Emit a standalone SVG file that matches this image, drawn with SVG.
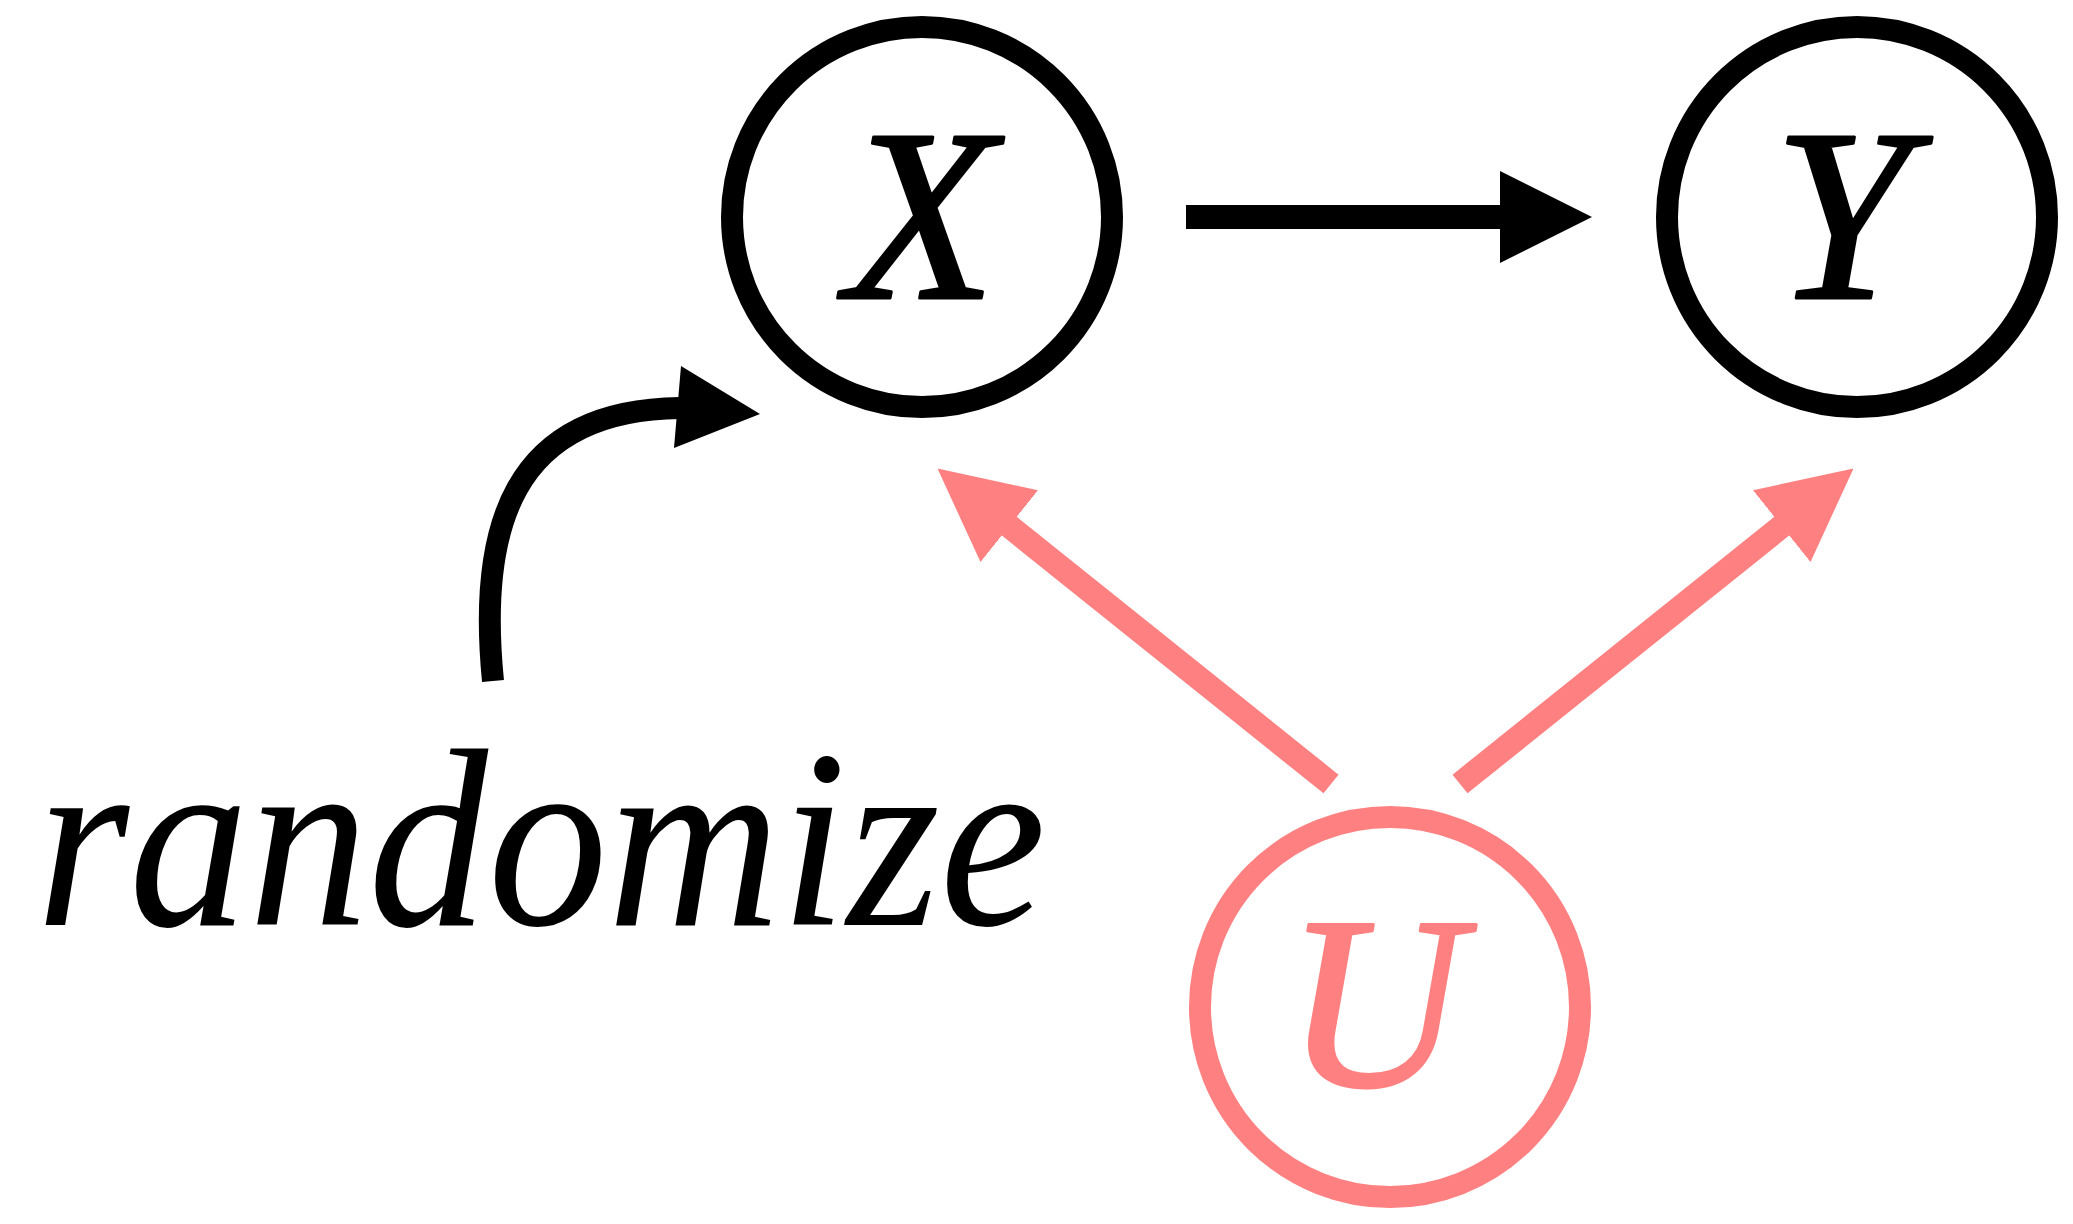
<svg xmlns="http://www.w3.org/2000/svg" width="2073" height="1224" viewBox="0 0 2073 1224">
<style>
.node-black{fill:#ffffff;stroke:#000000;stroke-width:22}
.node-pink{fill:#ffffff;stroke:#ff8080;stroke-width:22}
.lbl{font-family:"Liberation Serif","Times New Roman",serif;font-style:italic;font-size:246px;text-anchor:middle;stroke-width:3;stroke-linejoin:round}
.edge-black{fill:none;stroke:#000000;stroke-width:24}
.edge-pink{fill:none;stroke:#ff8080;stroke-width:24}
.edge-curve{fill:none;stroke:#000000;stroke-width:22}
</style>
<defs>
<marker id="ah-black" viewBox="0 0 92 92" refX="1" refY="46" markerWidth="92" markerHeight="92" markerUnits="userSpaceOnUse" orient="auto"><path d="M0,0 L92,46 L0,92 z" fill="#000000"/></marker>
<marker id="ah-pink" viewBox="0 0 92 92" refX="1" refY="46" markerWidth="92" markerHeight="92" markerUnits="userSpaceOnUse" orient="auto"><path d="M0,0 L92,46 L0,92 z" fill="#ff8080"/></marker>
</defs>
<rect width="2073" height="1224" fill="#ffffff"/>
<g id="connectors">
<line class="edge-black" x1="1186" y1="217" x2="1501" y2="217" marker-end="url(#ah-black)"/>
<line class="edge-pink" x1="1331" y1="784" x2="1008.5" y2="525.5" marker-end="url(#ah-pink)"/>
<line class="edge-pink" x1="1460" y1="784" x2="1782.5" y2="525.5" marker-end="url(#ah-pink)"/>
<path class="edge-curve" d="M493,681 C478,530 510,410 680,408"/>
<polygon points="681,366 760,414 674,448" fill="#000000"/>
</g>
<g id="node-X">
<circle class="node-black" cx="922" cy="217" r="190"/>
<text class="lbl" x="921" y="298" fill="#000000" stroke="#000000">X</text>
</g>
<g id="node-Y">
<circle class="node-black" cx="1857" cy="217" r="190"/>
<text class="lbl" x="1842" y="298" fill="#000000" stroke="#000000">Y</text>
</g>
<g id="node-U">
<circle class="node-pink" cx="1390" cy="1007" r="190"/>
<text class="lbl" x="1374" y="1086" fill="#ff8080" stroke="#ff8080">U</text>
</g>
<g id="label-randomize">
<text x="36" y="925" font-family="'Liberation Serif','Times New Roman',serif" font-style="italic" font-size="255" textLength="1010" lengthAdjust="spacingAndGlyphs">randomize</text>
</g>
</svg>
